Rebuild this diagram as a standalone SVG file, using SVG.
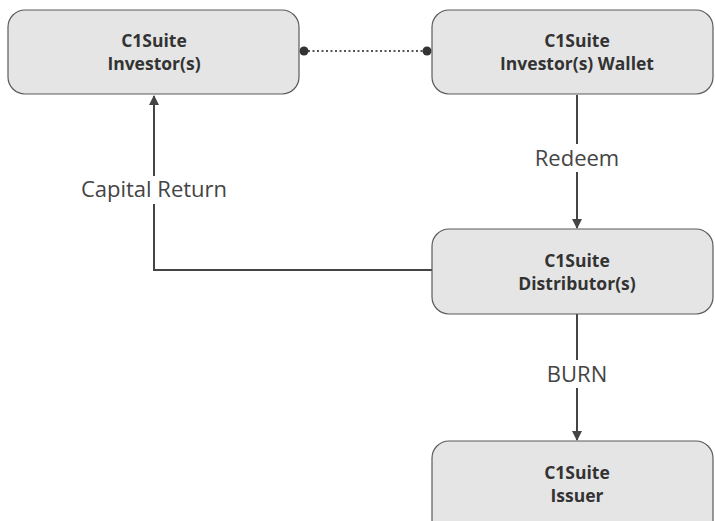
<svg xmlns="http://www.w3.org/2000/svg" width="715" height="521" viewBox="0 0 715 521">
<style>
.node{fill:#e5e5e5;stroke:#5a5a5a;stroke-width:1.2}
.nt{font-family:"Open Sans","Noto Sans",sans-serif;font-weight:bold;font-size:17.5px;fill:#333;text-anchor:middle}
.edge{fill:none;stroke:#444;stroke-width:2}
.lbl{font-family:"Open Sans","Noto Sans",sans-serif;font-size:22px;fill:#444;text-anchor:middle}
</style>
<defs>
<marker id="arr" viewBox="0 0 10 10" refX="9" refY="5" markerWidth="5" markerHeight="5" orient="auto" markerUnits="strokeWidth">
<path d="M0,0 L10,5 L0,10 z" fill="#444"/>
</marker>
</defs>
<rect width="715" height="521" fill="#fff"/>
<g id="edges">
<line x1="308" y1="51" x2="423" y2="51" stroke="#555" stroke-width="2" stroke-dasharray="2 2.5"/>
<circle cx="304" cy="51" r="4.5" fill="#333"/>
<circle cx="427" cy="51" r="4.5" fill="#333"/>
<path class="edge" d="M577,95 V144 M577,172 V228" marker-end="url(#arr)"/>
<path class="edge" d="M577,314 V360 M577,388 V440" marker-end="url(#arr)"/>
<path class="edge" d="M432,270 H154 V204 M154,176 V96" marker-end="url(#arr)"/>
<text class="lbl" x="577" y="166">Redeem</text>
<text class="lbl" x="577" y="382">BURN</text>
<text class="lbl" x="154" y="197">Capital Return</text>
</g>
<g id="investor">
<rect class="node" x="8" y="10" width="291" height="84" rx="17"/>
<text class="nt" x="154" y="47">C1Suite</text>
<text class="nt" x="154" y="70">Investor(s)</text>
</g>
<g id="wallet">
<rect class="node" x="432" y="10" width="281" height="84" rx="17"/>
<text class="nt" x="577" y="47">C1Suite</text>
<text class="nt" x="577" y="70">Investor(s) Wallet</text>
</g>
<g id="distributor">
<rect class="node" x="432" y="229" width="281" height="85" rx="17"/>
<text class="nt" x="577" y="267">C1Suite</text>
<text class="nt" x="577" y="290">Distributor(s)</text>
</g>
<g id="issuer">
<rect class="node" x="432" y="441" width="281" height="100" rx="17"/>
<text class="nt" x="577" y="479">C1Suite</text>
<text class="nt" x="577" y="502">Issuer</text>
</g>
</svg>
